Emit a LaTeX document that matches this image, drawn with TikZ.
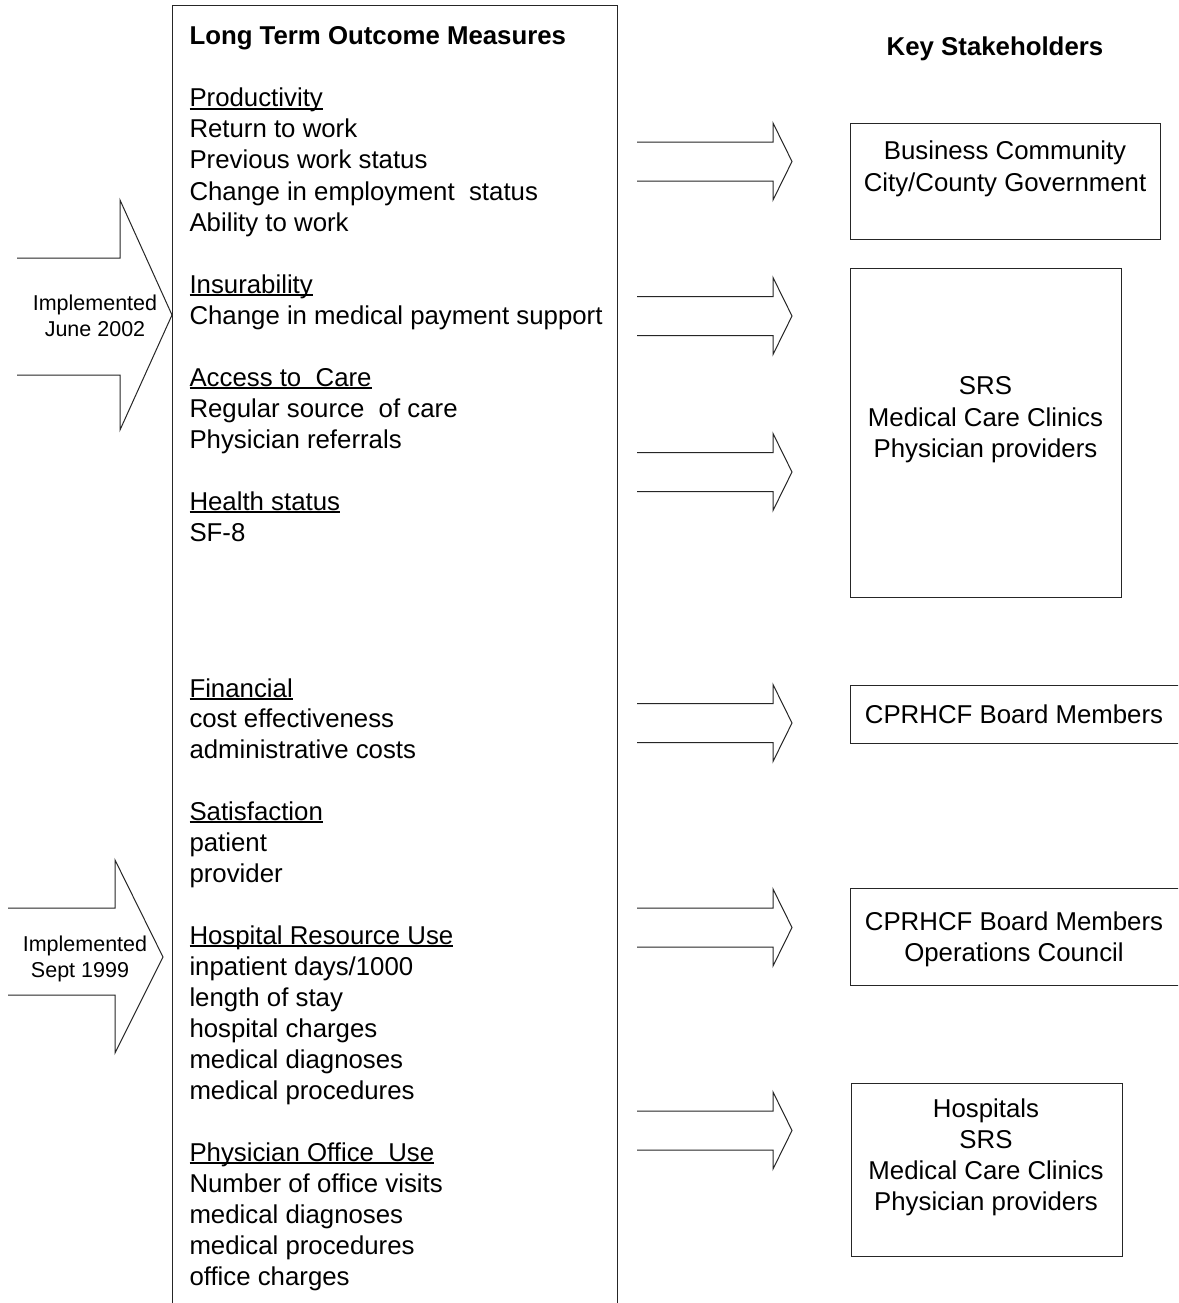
\documentclass[tikz,border=0pt]{standalone}
\usepackage{fontspec}
\setmainfont{Liberation Sans}
\newcommand\myul[1]{\setbox0\hbox{#1}\rlap{\rule[-2.5pt]{\wd0}{1.1pt}}\box0}
\begin{document}
\begin{tikzpicture}[x=1pt,y=-1pt,line width=1pt,
  ln/.style={draw=black!85},
  txt/.style={anchor=base west,inner sep=0pt,yshift=-2pt,font=\fontsize{25.8}{31}\selectfont},
  ctxt/.style={anchor=base,inner sep=0pt,yshift=-2pt,font=\fontsize{25.8}{31}\selectfont},
  small/.style={anchor=base,inner sep=0pt,yshift=-1.5pt,font=\fontsize{21.5}{25}\selectfont},
  sbox/.style={ln,anchor=north west,inner sep=0pt,minimum width=#1}]
\useasboundingbox (0,0) rectangle (1178,1303);
\clip (0,0) rectangle (1178,1303);
\fill[white] (0,0) rectangle (1178,1303);
% main box (open at bottom)
\draw[ln] (172,1310) -- (172,6) -- (617,6) -- (617,1310);
\node[txt,font=\fontsize{25.8}{31}\selectfont\bfseries] (title) at (189,43) {Long Term Outcome Measures};
\foreach \y/\t [count=\i] in {105/Productivity,291/Insurability,384/Access to~ Care,508/Health status,695/Financial,818/Satisfaction,942/Hospital Resource Use,1159/Physician Office~ Use}
  \node[txt] (h\i) at (189,\y) {\myul{\t}};
\foreach \y/\t [count=\i] in {135/Return to work,166/Previous work status,198/Change in employment~ status,229/Ability to work,322/Change in medical payment support,415/Regular source~ of care,446/Physician referrals,539/SF-8,725/cost effectiveness,756/administrative costs,849/patient,880/provider,973/{inpatient days/1000},1004/length of stay,1035/hospital charges,1066/medical diagnoses,1097/medical procedures,1190/Number of office visits,1221/medical diagnoses,1252/medical procedures,1283/office charges}
  \node[txt] (m\i) at (189,\y) {\t};
% left block arrows
\draw[ln] (17,258) -- (120,258) -- (120,200) -- (172,315) -- (120,430) -- (120,375) -- (17,375);
\node[small] (impA) at (95,309) {Implemented};
\node[small] (impA2) at (95,335) {June 2002};
\draw[ln] (8,908) -- (115,908) -- (115,860) -- (163,957) -- (115,1053) -- (115,995) -- (8,995);
\node[small] (impB) at (85,950) {Implemented};
\node[small] (impB2) at (80,976) {Sept 1999};
% right block arrows
\foreach \c [count=\i] in {161.5,316,472,723,927.5,1130.5}
  \draw[ln] (637,\c-19.5) -- (773,\c-19.5) -- (773,\c-38.5) -- (792,\c) -- (773,\c+38.5) -- (773,\c+19.5) -- (637,\c+19.5);
% stakeholders
\node[ctxt,font=\fontsize{25.8}{31}\selectfont\bfseries] (ks) at (995,54) {Key Stakeholders};
\node[sbox=310pt,minimum height=116pt] (s1) at (850,123) {};
\node[ctxt] (s1a) at (1005,157) {Business Community};
\node[ctxt] (s1b) at (1005,189) {City/County Government};
\node[sbox=271pt,minimum height=329pt] (s2) at (850,268) {};
\node[ctxt] (s2a) at (985.5,392) {SRS};
\node[ctxt] (s2b) at (985.5,424) {Medical Care Clinics};
\node[ctxt] (s2c) at (985.5,455) {Physician providers};
\node[sbox=340pt,minimum height=58pt] (s3) at (850,685) {};
\node[ctxt] (s3a) at (1014,721) {CPRHCF Board Members};
\node[sbox=340pt,minimum height=97pt] (s4) at (850,888) {};
\node[ctxt] (s4a) at (1014,928) {CPRHCF Board Members};
\node[ctxt] (s4b) at (1014,959) {Operations Council};
\node[sbox=271pt,minimum height=173pt] (s5) at (851,1083) {};
\node[ctxt] (s5a) at (986,1115) {Hospitals};
\node[ctxt] (s5b) at (986,1146) {SRS};
\node[ctxt] (s5c) at (986,1177) {Medical Care Clinics};
\node[ctxt] (s5d) at (986,1208) {Physician providers};
\end{tikzpicture}
\end{document}
